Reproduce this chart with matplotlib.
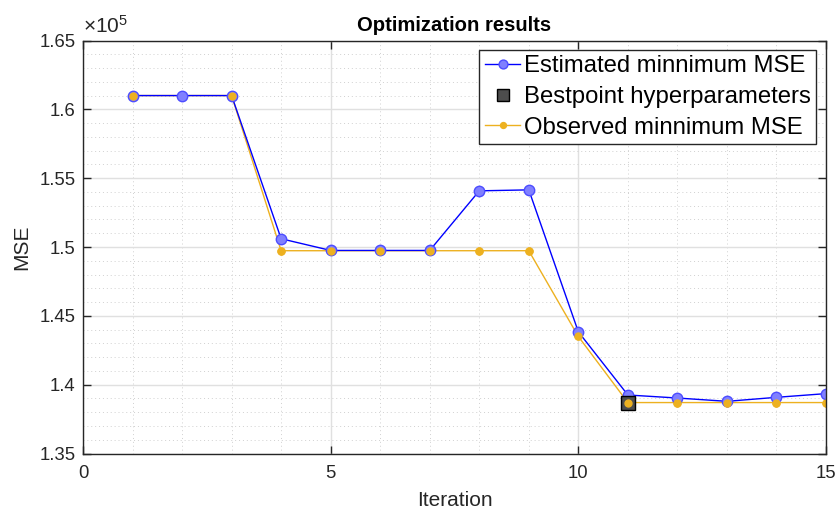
import numpy as np
import matplotlib.pyplot as plt
from matplotlib.ticker import MultipleLocator, FuncFormatter

plt.rcParams['font.family'] = ['Liberation Sans', 'DejaVu Sans']
plt.rcParams['mathtext.fontset'] = 'custom'
plt.rcParams['mathtext.rm'] = 'Liberation Sans'

# data
iterations = np.arange(1, 16)
estimated_min = [161000, 161000, 161000, 150600, 149750, 149750, 149750,
                 154080, 154150, 143840, 139250, 139030, 138790, 139080, 139350]
observed_min = [161000, 161000, 161000, 149730, 149730, 149730, 149730,
                149730, 149730, 143500, 138700, 138700, 138700, 138700, 138700]
best_iter = 11
best_value = 138700

blue = (0, 0, 1)
orange = (0.929, 0.694, 0.125)
dark = '#262626'

fig = plt.figure(figsize=(8.37, 5.09), dpi=100)
ax = fig.add_axes([83 / 837, 1 - 453.5 / 509, 743 / 837, 413 / 509])

# observed line sits under the blue line, its dots go on top
obs_marks = [0] + list(range(2, 15))
ax.plot(iterations, observed_min, '-o', color=orange, lw=1, ms=5,
        mfc=orange, mec=orange, markevery=obs_marks, zorder=2.0,
        label='_obs')
ax.plot(iterations, estimated_min, '-o', color=blue, lw=1,
        ms=7.5, mfc=(0.5, 0.5, 1), mec=(0.3, 0.3, 1), mew=1, zorder=2.1,
        label='Estimated minnimum MSE')
ax.plot([best_iter], [best_value], 's', ms=10, mfc=(0.3, 0.3, 0.3),
        mec='black', mew=1, ls='none', zorder=2.2,
        label='Bestpoint hyperparameters')
ax.plot(iterations[obs_marks], np.array(observed_min)[obs_marks], 'o',
        ms=5, mfc=orange, mec=orange, zorder=2.3, label='_obsdots')
# legend entry for the observed series
ax.plot([], [], '-o', color=orange, lw=1, ms=5, mfc=orange, mec=orange,
        label='Observed minnimum MSE')

ax.set_xlim(0, 15)
ax.set_ylim(135000, 165000)
ax.xaxis.set_major_locator(MultipleLocator(5))
ax.xaxis.set_minor_locator(MultipleLocator(1))
ax.yaxis.set_major_locator(MultipleLocator(5000))
ax.yaxis.set_minor_locator(MultipleLocator(1000))
ax.yaxis.set_major_formatter(FuncFormatter(lambda v, p: '%g' % (v / 1e5)))

ax.grid(which='major', color='#e0e0e0', lw=1, ls='-')
ax.grid(which='minor', color='#d0d0d0', lw=0.7, ls=(0, (1, 3)))
ax.set_axisbelow(True)
ax.tick_params(which='both', direction='in', top=True, right=True,
               labelsize=13.3, colors=dark)
ax.tick_params(which='major', length=6, width=1)
ax.tick_params(axis='x', which='major', pad=8)
ax.tick_params(axis='y', which='major', pad=5.5)
ax.tick_params(which='minor', length=0)
for s in ax.spines.values():
    s.set_color(dark)
    s.set_linewidth(1)

ax.set_xlabel('Iteration', fontsize=15, color=dark, labelpad=7)
ax.set_ylabel('MSE', fontsize=15, color=dark, labelpad=6)
ax.set_title('Optimization results', fontsize=14.6, fontweight='bold', pad=7)
ax.text(0, 1.008, r'$\times\mathregular{10^{5}}$', transform=ax.transAxes,
        fontsize=15, color=dark, ha='left', va='bottom')

leg = ax.legend(loc='upper right', fontsize=17.2, frameon=True, fancybox=False,
                edgecolor=dark, framealpha=1, handlelength=1.5,
                handletextpad=0.16, borderpad=0.22, labelspacing=0.36,
                borderaxespad=0.4, markerscale=0.85)
leg.get_frame().set_linewidth(1)

fig.savefig('out.png', dpi=100)
